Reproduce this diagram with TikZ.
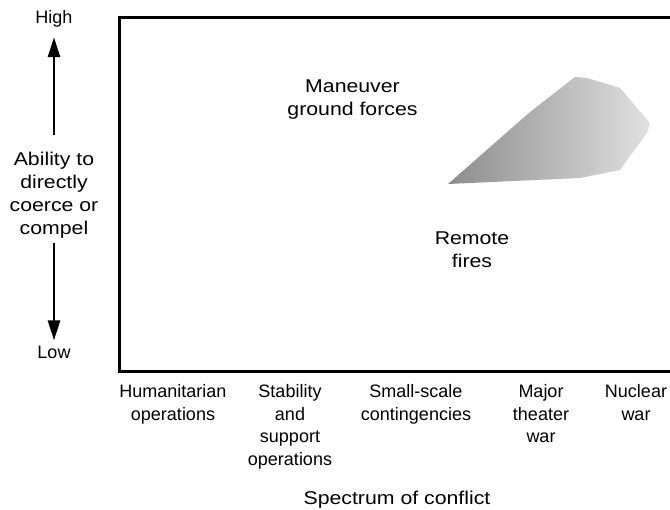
\documentclass[tikz,border=0pt]{standalone}
\usepackage{fontspec}
\setmainfont{Liberation Sans}
\newfontfamily\widefont{Liberation Sans}[FakeStretch=1.15]
\usetikzlibrary{arrows.meta}

\begin{document}
\begin{tikzpicture}[x=1pt, y=-1pt,
	lbl/.style={font=\fontsize{18}{22.8}\selectfont, align=center, inner sep=0pt},
	big lbl/.style={lbl, font=\widefont\fontsize{18.5}{22.8}\selectfont},
	frame line/.style={line width=3pt},
	scale arrow/.style={line width=2.8pt, -{Triangle[length=20pt,width=12pt]}}]
	\useasboundingbox (0,0) rectangle (670,510);

	\node[lbl, anchor=base] (high) at (54,23.3) {High};
	\node[big lbl, anchor=north] (ability) at (54,152) {Ability to\\directly\\coerce or\\compel};
	\node[lbl, anchor=base] (low) at (54,359) {Low};

	\draw [scale arrow]
		(ability) edge[shorten <=17pt, shorten >=10pt] (high)
		(ability) edge[shorten <=4.5pt, shorten >=6pt] (low)
		;

	\coordinate (top end) at (670,17.5);
	\coordinate (top corner) at (119.5,17.5);
	\coordinate (bottom corner) at (119.5,372);
	\coordinate (bottom end) at (670,372);
	\draw[frame line] (top end) -- (top corner) -- (bottom corner) -- (bottom end);

	\shade[left color=black!45, right color=black!12]
		(448,184) -- (530,112) -- (575,77) -- (587,78) -- (620,88) -- (650,123)
		-- (647,133) -- (627,160) -- (620,170) -- (580,178) -- cycle;

	\node[big lbl, anchor=north] (maneuver) at (352.5,80) {Maneuver\\ground forces};
	\node[big lbl, anchor=north] (remote) at (472,231.5) {Remote\\fires};

	\node[lbl, anchor=north] (humanitarian) at (173,384) {Humanitarian\\operations};
	\node[lbl, anchor=north] (stability) at (290,384) {Stability\\and\\support\\operations};
	\node[lbl, anchor=north] (smallscale) at (416,384) {Small-scale\\contingencies};
	\node[lbl, anchor=north] (major) at (541,384) {Major\\theater\\war};
	\node[lbl, anchor=north] (nuclear) at (636,384) {Nuclear\\war};
	\node[big lbl, anchor=base] (spectrum) at (397,505) {Spectrum of conflict};
\end{tikzpicture}
\end{document}
